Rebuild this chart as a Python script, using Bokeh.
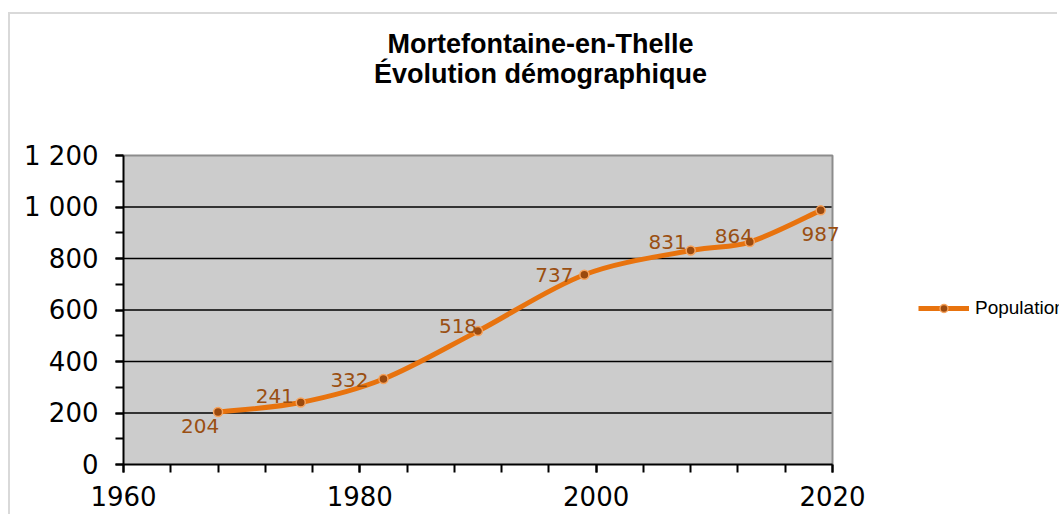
from bokeh.plotting import figure
from bokeh.models import (FixedTicker, Legend, LegendItem, Label, ColumnDataSource)
from bokeh.embed import file_html
from bokeh.resources import INLINE
from bokeh.core.properties import value

# ---- data ----
years = [1968, 1975, 1982, 1990, 1999, 2008, 2013, 2019]
population = [204, 241, 332, 518, 737, 831, 864, 987]
x_major_ticks = [1960, 1980, 2000, 2020]
y_major_ticks = [0, 200, 400, 600, 800, 1000, 1200]
y_tick_labels = ["0", "200", "400", "600", "800", "1 000", "1 200"]
title_line1 = "Mortefontaine-en-Thelle"
title_line2 = "Évolution démographique"
series_name = "Population"

# label offsets (screen px) - styling only
label_dx = [-18, -26, -34, -20, -30, -23, -16, 0]
label_dy = [14, -6, 1, -5, 0, -9, -6, 24]

LINE = "#E8730E"
MARK_FILL = "#9B4A0E"
MARK_LINE = "#F7A35C"
LABEL_COL = "#9A4F12"

x_lo, x_hi = x_major_ticks[0], x_major_ticks[-1]
y_lo, y_hi = y_major_ticks[0], y_major_ticks[-1]

# frame extends over the title / legend area; the plot area is drawn inside it
p = figure(width=1049, height=502, x_range=(1960, 2039.21), y_range=(0, 1747.6),
           output_backend="svg", toolbar_location=None,
           min_border_left=113, min_border_right=0, min_border_top=0,
           min_border_bottom=52)
p.styles = {"margin-left": "8px", "margin-top": "12px",
            "border-left": "2px solid #d9d9d9", "border-top": "2px solid #d9d9d9"}
p.background_fill_color = "white"
p.border_fill_color = "white"
p.outline_line_color = None
p.xgrid.visible = False
p.ygrid.visible = False

# plot area background, grid and border
p.quad(left=[x_lo], right=[x_hi], bottom=[y_lo], top=[y_hi],
       fill_color="#CCCCCC", line_color=None)
grid_y = y_major_ticks[1:-1]
p.segment(x0=[x_lo] * len(grid_y), x1=[x_hi] * len(grid_y), y0=grid_y, y1=grid_y,
          line_color="black", line_width=1.5)
p.line(x=[x_lo, x_hi, x_hi], y=[y_hi, y_hi, y_lo], line_color="#8C8C8C", line_width=2)

# axes
p.xaxis.ticker = FixedTicker(ticks=x_major_ticks, minor_ticks=list(range(1960, 2021, 4)))
p.yaxis.ticker = FixedTicker(ticks=y_major_ticks, minor_ticks=list(range(0, 1201, 100)))
p.xaxis.bounds = (x_lo, x_hi)
p.yaxis.bounds = (y_lo, y_hi)
p.yaxis.major_label_overrides = {v: s for v, s in zip(y_major_ticks, y_tick_labels)}
for ax in (p.xaxis[0], p.yaxis[0]):
    ax.axis_line_color = "black"
    ax.axis_line_width = 2
    ax.major_tick_line_color = "black"
    ax.minor_tick_line_color = "black"
    ax.major_tick_line_width = 2
    ax.minor_tick_line_width = 2
    ax.major_tick_in = 0
    ax.minor_tick_in = 0
    ax.major_tick_out = 8
    ax.minor_tick_out = 8
    ax.major_label_text_font = "DejaVu Sans"
    ax.major_label_text_font_size = "26px"
    ax.major_label_text_color = "black"
p.yaxis.major_label_standoff = 17
p.xaxis.major_label_standoff = 13

# smooth curve (Excel-like Catmull-Rom bezier through data points)
n = len(years)
x0, y0, x1, y1, cx0, cy0, cx1, cy1 = ([] for _ in range(8))
for i in range(n - 1):
    xa, ya = years[i], population[i]
    xb, yb = years[i + 1], population[i + 1]
    xp, yp = (years[i - 1], population[i - 1]) if i > 0 else (xa, ya)
    xn, yn = (years[i + 2], population[i + 2]) if i + 2 < n else (xb, yb)
    x0.append(xa); y0.append(ya); x1.append(xb); y1.append(yb)
    cx0.append(xa + (xb - xp) / 6); cy0.append(ya + (yb - yp) / 6)
    cx1.append(xb - (xn - xa) / 6); cy1.append(yb - (yn - ya) / 6)
curve = p.bezier(x0=x0, y0=y0, x1=x1, y1=y1, cx0=cx0, cy0=cy0, cx1=cx1, cy1=cy1,
                 line_color=LINE, line_width=5)

src = ColumnDataSource(dict(x=years, y=population, lbl=[str(v) for v in population],
                            dx=label_dx, dy=label_dy))
pts = p.scatter("x", "y", source=src, size=9, fill_color=MARK_FILL,
                line_color=MARK_LINE, line_width=1.5)
p.text("x", "y", text="lbl", source=src, x_offset="dx", y_offset="dy",
       text_align="center", text_baseline="middle",
       text_font=value("DejaVu Sans"), text_font_size="20px", text_color=LABEL_COL)

# title (two centred lines)
for txt, ty in ((title_line1, 421), (title_line2, 391)):
    p.add_layout(Label(x=417, y=ty, x_units="screen", y_units="screen", text=txt,
                       text_align="center", text_baseline="alphabetic",
                       text_font="Liberation Sans", text_font_size="27px",
                       text_font_style="bold", text_color="black"))

legend = Legend(items=[LegendItem(label=series_name, renderers=[curve, pts])],
                location=(795, 145), border_line_color=None,
                background_fill_alpha=0, padding=0, margin=0,
                glyph_width=51, glyph_height=20, label_standoff=6,
                label_text_font="Liberation Sans", label_text_font_size="19px",
                label_text_color="black")
p.add_layout(legend, "center")

open("out.html", "w").write(file_html(p, INLINE))
